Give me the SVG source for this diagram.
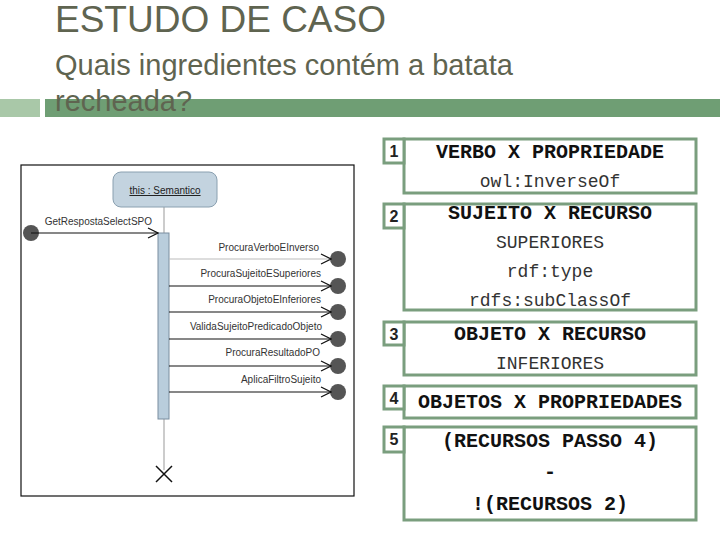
<svg xmlns="http://www.w3.org/2000/svg" width="720" height="540" viewBox="0 0 720 540">
<style>
.title{font-family:"Liberation Sans",Arial,sans-serif;fill:#5f6450}
.msg{font-family:"Liberation Sans",Arial,sans-serif;font-size:10px;fill:#333;text-anchor:end}
.box{fill:#fff;stroke:#7a9e7e;stroke-width:3}
.num{font-family:"Liberation Sans",Arial,sans-serif;font-size:16px;font-weight:bold;fill:#222;text-anchor:middle}
.bt{font-family:"Liberation Mono","Courier New",monospace;font-size:20px;font-weight:bold;fill:#111;text-anchor:middle}
.nt{font-family:"Liberation Mono","Courier New",monospace;font-size:18px;fill:#333;text-anchor:middle}
.dot{fill:#555}
.ln{stroke:#111;stroke-width:1.2;fill:none}
</style>
<defs>
<marker id="open" markerWidth="12" markerHeight="12" refX="11" refY="6" orient="auto" markerUnits="userSpaceOnUse">
<path d="M1,1 L11,6 L1,11" fill="none" stroke="#111" stroke-width="1.2"/>
</marker>
</defs>
<rect width="720" height="540" fill="#fff"/>
<g id="header">
<rect x="0" y="99" width="40" height="18" fill="#a9c8a8"/>
<rect x="45" y="99" width="675" height="18" fill="#6f9e74"/>
<text class="title" x="55" y="32" font-size="37">ESTUDO DE CASO</text>
<text class="title" x="55" y="75" font-size="29">Quais ingredientes contém a batata</text>
<text class="title" x="55" y="111" font-size="29">recheada?</text>
</g>
<g id="sequence">
<rect x="21" y="165" width="333" height="331" fill="#fff" stroke="#111" stroke-width="1.2"/>
<line x1="164" y1="207" x2="164" y2="470" stroke="#ccc" stroke-width="2"/>
<g id="lifeline">
<rect x="113" y="172" width="104" height="35" rx="8" fill="#c3d3df" stroke="#8aa0b0" stroke-width="1"/>
<text x="165" y="194" font-family="'Liberation Sans',Arial,sans-serif" font-size="10" fill="#222" text-anchor="middle" text-decoration="underline">this : Semantico</text>
</g>
<rect id="activation" x="158" y="233" width="11" height="186" fill="#b9cddc" stroke="#7a8ea0" stroke-width="1"/>
<g id="end">
<path d="M156,466 L172,482 M172,466 L156,482" stroke="#111" stroke-width="1.5"/>
</g>
<g id="dots">
<circle class="dot" cx="31" cy="233" r="8"/>
<circle class="dot" cx="338" cy="259" r="8"/>
<circle class="dot" cx="338" cy="286" r="8"/>
<circle class="dot" cx="338" cy="312" r="8"/>
<circle class="dot" cx="338" cy="339" r="8"/>
<circle class="dot" cx="338" cy="366" r="8"/>
<circle class="dot" cx="338" cy="392" r="8"/>
</g>
<g id="connectors">
<line class="ln" x1="31" y1="233" x2="158" y2="233" marker-end="url(#open)"/>
<line x1="169" y1="259" x2="331" y2="259" stroke="#bbb" stroke-width="1" marker-end="url(#open)"/>
<line class="ln" x1="169" y1="286" x2="331" y2="286" marker-end="url(#open)"/>
<line class="ln" x1="169" y1="312" x2="331" y2="312" marker-end="url(#open)"/>
<line class="ln" x1="169" y1="339" x2="331" y2="339" marker-end="url(#open)"/>
<line class="ln" x1="169" y1="366" x2="331" y2="366" marker-end="url(#open)"/>
<line class="ln" x1="169" y1="392" x2="331" y2="392" marker-end="url(#open)"/>
</g>
<g id="labels">
<text class="msg" x="152" y="225">GetRespostaSelectSPO</text>
<text class="msg" x="319" y="251">ProcuraVerboEInverso</text>
<text class="msg" x="321" y="277">ProcuraSujeitoESuperiores</text>
<text class="msg" x="321" y="303">ProcuraObjetoEInferiores</text>
<text class="msg" x="322" y="330">ValidaSujeitoPredicadoObjeto</text>
<text class="msg" x="320" y="356">ProcuraResultadoPO</text>
<text class="msg" x="321" y="383">AplicaFiltroSujeito</text>
</g>
</g>
<g id="step1">
<rect class="box" x="404" y="139" width="292" height="54"/>
<rect class="box" x="384" y="139" width="20" height="24"/>
<text class="num" x="394" y="157">1</text>
<text class="bt" x="550" y="158">VERBO X PROPRIEDADE</text>
<text class="nt" x="550" y="187">owl:InverseOf</text>
</g>
<g id="step2">
<rect class="box" x="404" y="204" width="292" height="106"/>
<rect class="box" x="384" y="204" width="20" height="24"/>
<text class="num" x="394" y="222">2</text>
<text class="bt" x="550" y="219">SUJEITO X RECURSO</text>
<text class="nt" x="550" y="248">SUPERIORES</text>
<text class="nt" x="550" y="277">rdf:type</text>
<text class="nt" x="550" y="306">rdfs:subClassOf</text>
</g>
<g id="step3">
<rect class="box" x="404" y="322" width="292" height="53"/>
<rect class="box" x="384" y="322" width="20" height="23"/>
<text class="num" x="394" y="340">3</text>
<text class="bt" x="550" y="340">OBJETO X RECURSO</text>
<text class="nt" x="550" y="369">INFERIORES</text>
</g>
<g id="step4">
<rect class="box" x="404" y="386" width="292" height="32"/>
<rect class="box" x="384" y="386" width="20" height="23"/>
<text class="num" x="394" y="404">4</text>
<text class="bt" x="550" y="408">OBJETOS X PROPRIEDADES</text>
</g>
<g id="step5">
<rect class="box" x="404" y="427" width="292" height="93"/>
<rect class="box" x="384" y="427" width="20" height="25"/>
<text class="num" x="394" y="445">5</text>
<text class="bt" x="550" y="447">(RECURSOS PASSO 4)</text>
<text class="bt" x="550" y="478">-</text>
<text class="bt" x="550" y="510">!(RECURSOS 2)</text>
</g>
</svg>
